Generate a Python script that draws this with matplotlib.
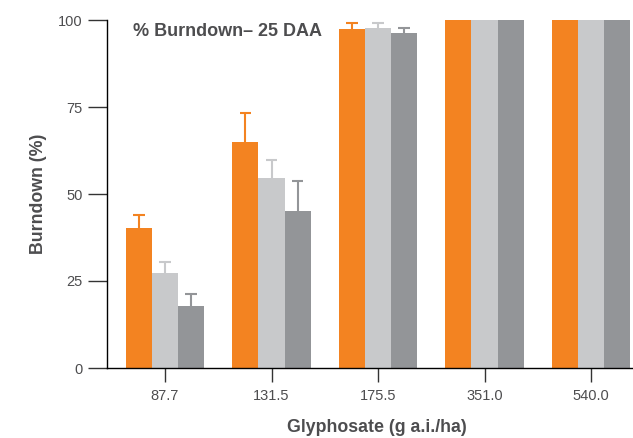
import numpy as np
import matplotlib
matplotlib.use("Agg")
import matplotlib.pyplot as plt

# Glyphosate burndown at 25 DAA, three treatments per rate
rates = ["87.7", "131.5", "175.5", "351.0", "540.0"]
series_a = [40.3, 64.9, 97.4, 100.0, 100.0]
series_b = [27.3, 54.5, 97.7, 100.0, 100.0]
series_c = [17.8, 45.1, 96.3, 100.0, 100.0]
err_a = [3.6, 8.3, 1.8, 0.0, 0.0]
err_b = [3.2, 5.3, 1.5, 0.0, 0.0]
err_c = [3.5, 8.6, 1.5, 0.0, 0.0]

ORANGE = "#F38321"
LIGHT = "#C8C9CB"
DARK = "#939598"
TEXT = "#4D4D4F"

plt.rcParams.update({
    "font.family": ["Liberation Sans", "DejaVu Sans"],
    "font.size": 10,
})

fig = plt.figure(figsize=(6.33, 4.38), dpi=100)
ax = fig.add_axes([107 / 633, 70 / 438, 1 - 107 / 633, 348 / 438])

x = np.arange(len(rates))
w = 0.245
cap = 0.055
for off, vals, errs, col in [(-w, series_a, err_a, ORANGE),
                             (0.0, series_b, err_b, LIGHT),
                             (w, series_c, err_c, DARK)]:
    xs = x + off
    vals = np.array(vals)
    errs = np.array(errs)
    ax.bar(xs, vals, width=w, color=col, edgecolor="none", zorder=2)
    # upper-only error whiskers with a cap
    has = errs > 0
    ax.vlines(xs[has], vals[has], vals[has] + errs[has], color=col,
              linewidth=1.5, zorder=1)
    ax.hlines(vals[has] + errs[has], xs[has] - cap, xs[has] + cap,
              color=col, linewidth=1.5, zorder=1)

ax.set_xlim(-0.545, 4.394)
ax.set_ylim(0, 100)
ax.set_yticks([0, 25, 50, 75, 100])
ax.set_xticks(x)
ax.set_xticklabels(rates)

for s in ["top", "right"]:
    ax.spines[s].set_visible(False)
for s in ["left", "bottom"]:
    ax.spines[s].set_linewidth(1.0)
    ax.spines[s].set_color("black")

ax.tick_params(axis="y", direction="out", length=13.5, width=1.0,
               colors="#333333", labelcolor=TEXT, labelsize=10.5, pad=4)
ax.tick_params(axis="x", direction="out", length=10, width=1.0,
               colors="#333333", labelcolor=TEXT, labelsize=10.5, pad=5)

ax.set_ylabel("Burndown (%)", fontsize=12.8, fontweight="bold", color=TEXT,
              labelpad=8)
ax.set_xlabel("Glyphosate (g a.i./ha)", fontsize=12.8, fontweight="bold",
              color=TEXT)
ax.xaxis.set_label_coords(0.513, -0.147)

ax.text(0.049, 0.967, "% Burndown\u2013 25 DAA", transform=ax.transAxes,
        fontsize=13, fontweight="bold", color=TEXT, va="center", ha="left")

fig.savefig("out.png", dpi=100)
